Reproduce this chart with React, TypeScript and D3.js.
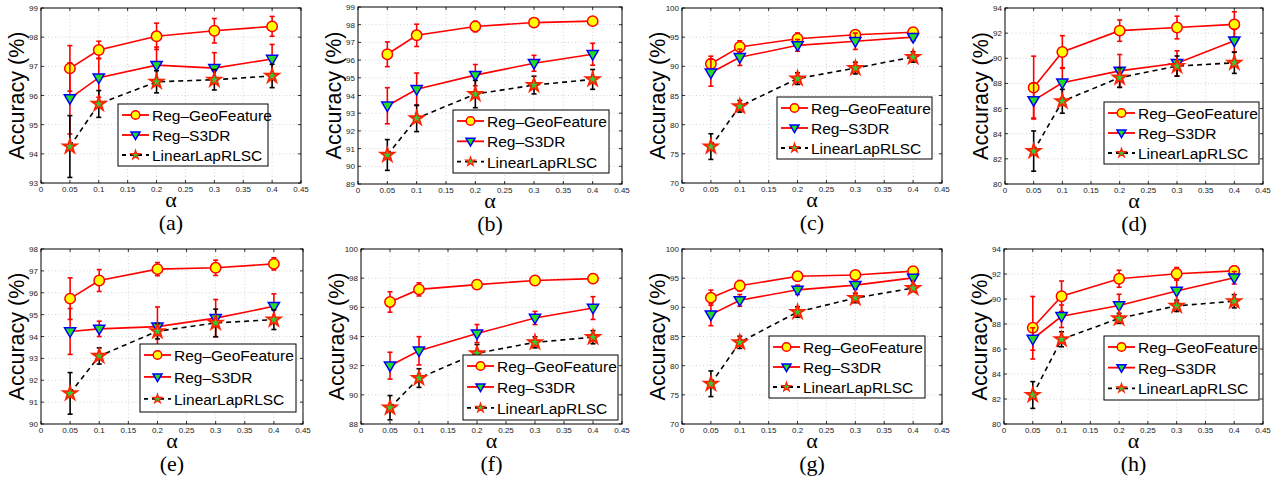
import React from 'react';
import * as d3 from 'd3';

// alpha values on the x axis
const alphas = [0.05, 0.1, 0.2, 0.3, 0.4];
const xTicks = [0, 0.05, 0.1, 0.15, 0.2, 0.25, 0.3, 0.35, 0.4, 0.45];
const panelLabels = ['(a)', '(b)', '(c)', '(d)', '(e)', '(f)', '(g)', '(h)'];
const seriesNames = ['Reg\u2013GeoFeature', 'Reg\u2013S3DR', 'LinearLapRLSC'];

const yDomains = [[93, 99], [89, 99], [70, 100], [80, 94], [90, 98], [88, 100], [70, 100], [80, 94]];
const yTickSteps = [1, 1, 5, 2, 1, 2, 5, 2];

// Reg-GeoFeature
const geoMean = [
  [96.93, 97.56, 98.03, 98.22, 98.37],
  [96.33, 97.4, 97.9, 98.12, 98.2],
  [90.44, 93.33, 94.73, 95.42, 95.85],
  [87.67, 90.5, 92.2, 92.45, 92.7],
  [95.73, 96.56, 97.08, 97.14, 97.32],
  [96.37, 97.23, 97.56, 97.84, 97.97],
  [91.66, 93.7, 95.32, 95.55, 96.2],
  [87.7, 90.22, 91.62, 92.02, 92.25],
];
const geoErr = [
  [0.78, 0.3, 0.45, 0.42, 0.34],
  [0.7, 0.63, 0.3, 0.22, 0.2],
  [1.3, 1.05, 1.0, 0.6, 0.5],
  [2.5, 1.3, 0.85, 0.9, 1.0],
  [0.95, 0.5, 0.3, 0.35, 0.28],
  [0.7, 0.45, 0.3, 0.3, 0.3],
  [1.3, 0.9, 0.5, 0.5, 0.4],
  [2.5, 1.22, 0.68, 0.5, 0.38],
];

// Reg-S3DR
const s3drMean = [
  [95.9, 96.61, 97.04, 96.94, 97.25],
  [93.42, 94.35, 95.15, 95.82, 96.33],
  [88.9, 91.55, 93.6, 94.3, 95.0],
  [86.65, 88.05, 89.0, 89.6, 91.4],
  [94.23, 94.35, 94.45, 94.84, 95.38],
  [92.0, 93.02, 94.2, 95.27, 95.95],
  [88.75, 91.2, 93.0, 93.8, 95.05],
  [86.8, 88.62, 89.48, 90.64, 91.7],
];
const s3drErr = [
  [1.22, 0.67, 0.62, 0.53, 0.5],
  [1.02, 0.92, 0.6, 0.45, 0.62],
  [2.3, 1.4, 1.0, 1.4, 0.6],
  [1.4, 1.2, 1.3, 1.0, 0.9],
  [1.05, 0.35, 0.9, 0.85, 0.57],
  [0.92, 0.97, 0.62, 0.45, 0.78],
  [1.9, 1.0, 0.8, 0.7, 0.5],
  [0.9, 0.9, 0.9, 0.9, 0.5],
];

// LinearLapRLSC
const llrMean = [
  [94.25, 95.71, 96.47, 96.54, 96.67],
  [90.64, 92.71, 94.08, 94.59, 94.91],
  [76.24, 83.15, 87.9, 89.7, 91.6],
  [82.62, 86.58, 88.46, 89.38, 89.64],
  [91.4, 93.11, 94.24, 94.62, 94.77],
  [89.12, 91.15, 92.85, 93.6, 93.95],
  [76.9, 84.0, 89.2, 91.6, 93.3],
  [82.32, 86.78, 88.45, 89.45, 89.82],
];
const llrErr = [
  [1.06, 0.46, 0.38, 0.35, 0.4],
  [0.87, 0.75, 0.77, 0.5, 0.56],
  [2.2, 1.0, 1.0, 1.0, 0.9],
  [1.6, 0.95, 0.78, 0.8, 0.84],
  [0.95, 0.37, 0.35, 0.63, 0.45],
  [0.83, 0.64, 0.6, 0.38, 0.45],
  [2.2, 1.05, 0.9, 0.8, 0.6],
  [1.07, 0.6, 0.4, 0.45, 0.53],
];

// layout: axes boxes [x, y, w, h] and legend boxes [x, y, w, h]
const boxes = [
  [41, 8, 260, 175], [358, 7, 264, 177], [682, 8, 260, 175], [1005, 8, 258, 176],
  [41, 249, 262, 175], [361, 249, 261, 175], [682, 249, 260, 175], [1004, 249, 259, 175],
];
const legends = [
  [118, 104, 150, 62], [453, 110, 156, 63], [777, 97, 155, 62], [1104, 102, 155, 62],
  [140, 344, 156, 68], [463, 355, 155, 65], [769, 336, 156, 62], [1104, 336, 155, 64],
];

const SANS = '"Liberation Sans", Arial, Helvetica, sans-serif';
const SERIF = '"Liberation Serif", "Times New Roman", serif';

const starBig = d3.symbol(d3.symbolStar, 58)() as string;
const starSmall = d3.symbol(d3.symbolStar, 26)() as string;
const triBig = 'M-5.6,-3.7L5.6,-3.7L0,5.8Z';
const triSmall = 'M-4.5,-3L4.5,-3L0,4.6Z';

const Marker = ({ kind, x, y, small }: { kind: number; x: number; y: number; small?: boolean }) => {
  if (kind === 0)
    return <circle cx={x} cy={y} r={small ? 4.3 : 5.2} fill="#ffff00" stroke="#ff0000" strokeWidth={1.5} />;
  if (kind === 1)
    return <path d={small ? triSmall : triBig} transform={`translate(${x},${y})`} fill="#22dd22" stroke="#0000ff" strokeWidth={1.5} />;
  return <path d={small ? starSmall : starBig} transform={`translate(${x},${y})`} fill="#33cc33" stroke="#ff2200" strokeWidth={small ? 1.2 : 1.8} />;
};

const Panel = ({ i }: { i: number }) => {
  const [bx, by, bw, bh] = boxes[i];
  const x = d3.scaleLinear().domain([0, 0.45]).range([bx, bx + bw]);
  const y = d3.scaleLinear().domain(yDomains[i]).range([by + bh, by]);
  const yTicks = d3.range(yDomains[i][0], yDomains[i][1] + 0.001, yTickSteps[i]);
  const series = [
    { mean: geoMean[i], err: geoErr[i], color: '#ff0000', dash: undefined },
    { mean: s3drMean[i], err: s3drErr[i], color: '#ff0000', dash: undefined },
    { mean: llrMean[i], err: llrErr[i], color: '#000000', dash: '5,4' },
  ];
  const line = d3.line<number>().x((_, j) => x(alphas[j])).y(d => y(d));
  const [lx, ly, lw, lh] = legends[i];
  const cx = bx + bw / 2;

  return (
    <g>
      {/* grid */}
      {xTicks.slice(1, -1).map(t => (
        <line key={'gx' + t} x1={x(t)} x2={x(t)} y1={by} y2={by + bh} stroke="#c8c8c8" strokeWidth={0.8} strokeDasharray="1,2.5" />
      ))}
      {yTicks.slice(1, -1).map(t => (
        <line key={'gy' + t} x1={bx} x2={bx + bw} y1={y(t)} y2={y(t)} stroke="#c8c8c8" strokeWidth={0.8} strokeDasharray="1,2.5" />
      ))}
      {/* ticks */}
      {xTicks.map(t => (
        <g key={'tx' + t}>
          <line x1={x(t)} x2={x(t)} y1={by + bh} y2={by + bh - 3} stroke="#000" strokeWidth={0.8} />
          <line x1={x(t)} x2={x(t)} y1={by} y2={by + 3} stroke="#000" strokeWidth={0.8} />
          <text x={x(t)} y={by + bh + 9} textAnchor="middle" fontSize={8} fontFamily={SANS} fill="#222">{String(t)}</text>
        </g>
      ))}
      {yTicks.map(t => (
        <g key={'ty' + t}>
          <line x1={bx} x2={bx + 3} y1={y(t)} y2={y(t)} stroke="#000" strokeWidth={0.8} />
          <line x1={bx + bw} x2={bx + bw - 3} y1={y(t)} y2={y(t)} stroke="#000" strokeWidth={0.8} />
          <text x={bx - 3} y={y(t) + 3} textAnchor="end" fontSize={8} fontFamily={SANS} fill="#222">{t}</text>
        </g>
      ))}
      {/* series */}
      {series.map((s, k) => (
        <g key={'s' + k}>
          <path d={line(s.mean) as string} fill="none" stroke={s.color} strokeWidth={1.6} strokeDasharray={s.dash} />
          {s.mean.map((m, j) => {
            const px = x(alphas[j]);
            const top = y(m + s.err[j]);
            const bot = y(m - s.err[j]);
            return (
              <g key={'e' + j} stroke={s.color} strokeWidth={1.6}>
                <line x1={px} x2={px} y1={top} y2={bot} />
                <line x1={px - 2.5} x2={px + 2.5} y1={top} y2={top} />
                <line x1={px - 2.5} x2={px + 2.5} y1={bot} y2={bot} />
              </g>
            );
          })}
          {s.mean.map((m, j) => (
            <Marker key={'m' + j} kind={k} x={x(alphas[j])} y={y(m)} />
          ))}
        </g>
      ))}
      {/* axes box */}
      <rect x={bx} y={by} width={bw} height={bh} fill="none" stroke="#000" strokeWidth={1} />
      {/* legend */}
      <rect x={lx} y={ly} width={lw} height={lh} fill="#fff" stroke="#000" strokeWidth={1} />
      {seriesNames.map((name, k) => {
        const ry = ly + 11 + k * 20 * (lh / 62);
        return (
          <g key={'l' + k}>
            <line x1={lx + 4} x2={lx + 31} y1={ry} y2={ry} stroke={series[k].color} strokeWidth={1.8} strokeDasharray={k === 2 ? '4,4' : undefined} />
            <Marker kind={k} x={lx + 17.5} y={ry} small />
            <text x={lx + 34} y={ry + 6} fontSize={15.5} fontFamily={SANS} fill="#000">{name}</text>
          </g>
        );
      })}
      {/* labels */}
      <text transform={`translate(${bx - 17},${by + bh / 2}) rotate(-90)`} textAnchor="middle" fontSize={21.5} fontFamily={SANS} fill="#000">Accuracy (%)</text>
      <text x={cx} y={by + bh + 24} textAnchor="middle" fontSize={22} fontFamily={SERIF} fill="#000">{'\u03b1'}</text>
      <text x={cx} y={by + bh + 47} textAnchor="middle" fontSize={22} fontFamily={SERIF} fill="#000">{panelLabels[i]}</text>
    </g>
  );
};

export default function App() {
  return (
    <svg width={1276} height={478} style={{ display: 'block', position: 'absolute', left: 0, top: 0, background: '#fff' }}>
      <rect width={1276} height={478} fill="#fff" />
      {panelLabels.map((_, i) => (
        <Panel key={i} i={i} />
      ))}
    </svg>
  );
}
